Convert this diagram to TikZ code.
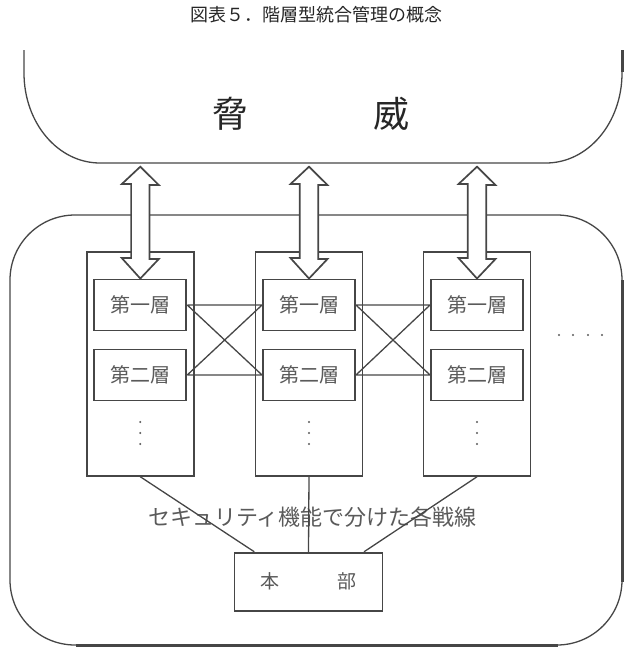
\documentclass[tikz,border=0pt]{standalone}
\usepackage{fontspec}
\newfontfamily\jpfont{Noto Sans CJK JP}
\usetikzlibrary{calc}
\definecolor{linegray}{HTML}{464646}
\definecolor{textgray}{HTML}{5A5A5A}
\tikzset{
  linkline/.style={draw=linegray,line width=1.3pt},
  shadowline/.style={draw=linegray,line width=3pt},
  colbox/.style={draw=linegray,line width=1.9pt,minimum width=107pt,minimum height=224pt,inner sep=0pt},
  layerbox/.style={draw=linegray,line width=1.9pt,minimum width=92pt,minimum height=51pt,inner sep=0pt,text=textgray,font=\jpfont\fontsize{20}{20}\selectfont},
  hqbox/.style={draw=linegray,line width=1.9pt,minimum width=148pt,minimum height=58pt,inner sep=0pt,text=textgray,font=\jpfont\fontsize{19}{19}\selectfont},
  dblarrow/.style={draw=linegray,line width=1.7pt,fill=white,line join=miter}
}

\begin{document}
\begin{tikzpicture}[x=1pt,y=-1pt]
  \useasboundingbox (0,0) rectangle (636,659);
  \node[font=\jpfont\fontsize{18}{18}\selectfont,text=black!85] (title) at (316,15) {図表５．階層型統合管理の概念};

  \draw[linkline] (24,50) -- (24,73) .. controls (24,123) and (58,163) .. (100,163) -- (546,163) .. controls (588,163) and (622,123) .. (622,73) -- (622,50);
  \draw[shadowline] (622,50) -- (622,72);
  \node[font=\jpfont\fontsize{36}{36}\selectfont,text=black!85] (threat) at (310.5,114) {脅\hspace{125pt}威};

  \draw[linkline,rounded corners=65pt] (10,215) rectangle (622,645);
  \draw[shadowline] (622,280) -- (622,582);
  \draw[shadowline] (76,645) -- (558,645);

  \node[colbox] (C1) at (140.3,363.8) {};
  \node[colbox] (C2) at (309,363.8) {};
  \node[colbox] (C3) at (477,363.8) {};
  \node[layerbox] (L11) at (140.3,305) {第一層};
  \node[layerbox] (L21) at (140.3,375) {第二層};
  \node[layerbox] (L12) at (309,305) {第一層};
  \node[layerbox] (L22) at (309,375) {第二層};
  \node[layerbox] (L13) at (477,305) {第一層};
  \node[layerbox] (L23) at (477,375) {第二層};
  \fill[textgray] (140.3,422) circle (1.1pt) (140.3,433) circle (1.1pt) (140.3,444) circle (1.1pt);
  \fill[textgray] (309,422) circle (1.1pt) (309,433) circle (1.1pt) (309,444) circle (1.1pt);
  \fill[textgray] (477,422) circle (1.1pt) (477,433) circle (1.1pt) (477,444) circle (1.1pt);
  \fill[textgray] (559,335) circle (1.1pt) (573,335) circle (1.1pt) (588,335) circle (1.1pt) (602,335) circle (1.1pt);

  \draw[linkline] (L11.east) -- (L12.west) (L21.east) -- (L22.west) (L11.east) -- (L22.west) (L21.east) -- (L12.west);
  \draw[linkline] (L12.east) -- (L13.west) (L22.east) -- (L23.west) (L12.east) -- (L23.west) (L22.east) -- (L13.west);

  \coordinate (T1) at (140.3,166.7);
  \coordinate (T2) at (309,166.7);
  \coordinate (T3) at (477,166.7);
  \draw[dblarrow] (T1) -- ++(18.5,18.3) -- ++(-9.3,0) -- ++(0,74) -- ++(9.3,0) -- (L11.north) -- ++(-18.5,-20.5) -- ++(9.3,0) -- ++(0,-74) -- ++(-9.3,0) -- cycle;
  \draw[dblarrow] (T2) -- ++(18.5,18.3) -- ++(-9.3,0) -- ++(0,74) -- ++(9.3,0) -- (L12.north) -- ++(-18.5,-20.5) -- ++(9.3,0) -- ++(0,-74) -- ++(-9.3,0) -- cycle;
  \draw[dblarrow] (T3) -- ++(18.5,18.3) -- ++(-9.3,0) -- ++(0,74) -- ++(9.3,0) -- (L13.north) -- ++(-18.5,-20.5) -- ++(9.3,0) -- ++(0,-74) -- ++(-9.3,0) -- cycle;

  \node[text=textgray,font=\jpfont\fontsize{22}{22}\selectfont] (front) at (312.5,517) {セキュリティ機能で分けた各戦線};
  \node[hqbox] (hq) at (308.5,581.7) {本\hspace{58pt}部};
  \draw[linkline] (C1.south) -- ($(hq.north west)+(20.7,0)$);
  \draw[linkline] (C2.south) -- (hq.north);
  \draw[linkline] (C3.south) -- ($(hq.north east)+(-19.4,0)$);
\end{tikzpicture}
\end{document}
